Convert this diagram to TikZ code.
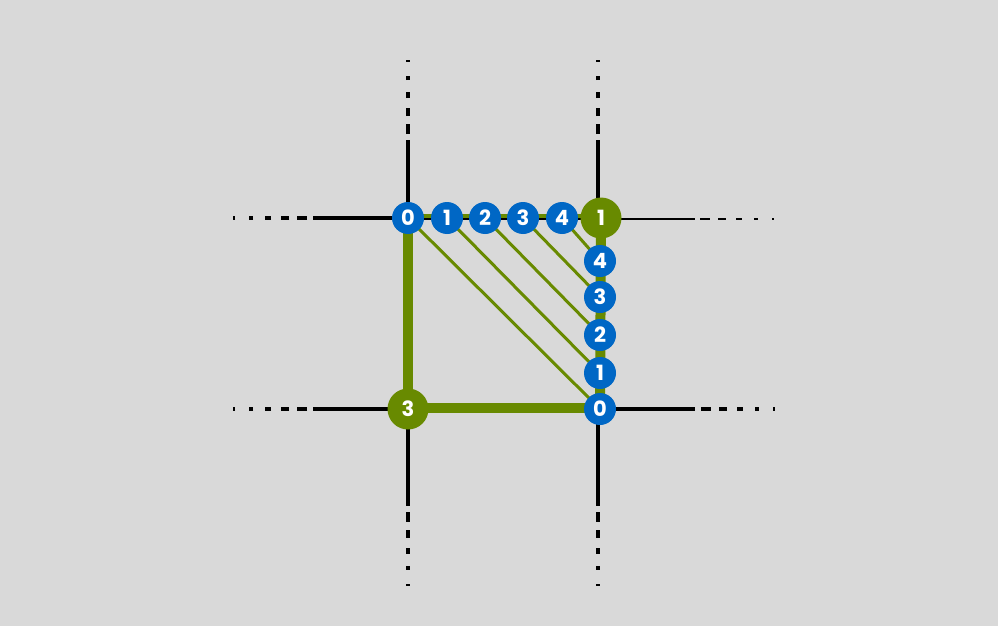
\documentclass[tikz,border=0pt]{standalone}
\usepackage{fontspec}
\setmainfont{Poppins}
\definecolor{bg}{HTML}{D9D9D9}
\definecolor{grn}{HTML}{688A00}
\definecolor{blu}{HTML}{0067C5}
\begin{document}
\begin{tikzpicture}[x=1pt,y=-1pt,
  blk/.style={line width=4pt,black},
  thinblk/.style={line width=2pt,black},
  tail/.style={line width=4pt,black,dash pattern=on 10pt off 8pt on 8pt off 10pt on 6pt off 12pt on 4pt off 14pt on 2pt off 100pt},
  thintail/.style={tail,line width=2pt},
  edge/.style={line width=10pt,grn},
  topedge/.style={line width=4pt,grn},
  diag/.style={line width=3pt,grn},
  bnode/.style={circle,fill=blu,minimum size=32pt,inner sep=0pt,text=white,font=\fontsize{21}{21}\selectfont\bfseries},
  gnode/.style={bnode,fill=grn,minimum size=41pt}]
\useasboundingbox[fill=bg] (0,0) rectangle (998,626);
% node positions
\coordinate (T0) at (408,218);
\coordinate (T1) at (447,218);
\coordinate (T2) at (485,218);
\coordinate (T3) at (523,218);
\coordinate (T4) at (562,218);
\coordinate (G1) at (601,218);
\coordinate (R4) at (600,261);
\coordinate (R3) at (600,297);
\coordinate (R2) at (600,335);
\coordinate (R1) at (600,373);
\coordinate (R0) at (600,409);
\coordinate (G3) at (408,409);
% grid ends
\coordinate (LVt) at (408,140); \coordinate (LVtd) at (408,134); \coordinate (LVte) at (408,55);
\coordinate (LVb) at (408,506); \coordinate (LVbd) at (408,512); \coordinate (LVbe) at (408,595);
\coordinate (RVc) at (598,218); \coordinate (RVc2) at (598,409);
\coordinate (RVt) at (598,140); \coordinate (RVtd) at (598,134); \coordinate (RVte) at (598,55);
\coordinate (RVb) at (598,506); \coordinate (RVbd) at (598,512); \coordinate (RVbe) at (598,595);
\coordinate (THl) at (313,217.5); \coordinate (THld) at (307,217.5); \coordinate (THle) at (225,217.5);
\coordinate (G1b) at (601,217.5);
\coordinate (G1r) at (601,219); \coordinate (THr) at (695,219); \coordinate (THrd) at (700,219); \coordinate (THre) at (785,219);
\coordinate (BHl) at (313,409); \coordinate (BHld) at (307,409); \coordinate (BHle) at (225,409);
\coordinate (BHr) at (695,409); \coordinate (BHrd) at (701,409); \coordinate (BHre) at (785,409);
% black grid
\draw[blk] (T0) -- (LVt); \draw[tail] (LVtd) -- (LVte);
\draw[blk] (G3) -- (LVb); \draw[tail] (LVbd) -- (LVbe);
\draw[blk] (RVc) -- (RVt); \draw[tail] (RVtd) -- (RVte);
\draw[blk] (RVc2) -- (RVb); \draw[tail] (RVbd) -- (RVbe);
\draw[blk] (THl) -- (G1b); \draw[tail] (THld) -- (THle);
\draw[thinblk] (G1r) -- (THr); \draw[thintail] (THrd) -- (THre);
\draw[blk] (BHl) -- (BHr); \draw[tail] (BHld) -- (BHle); \draw[tail] (BHrd) -- (BHre);
\draw[blk] (RVc) -- (RVc2);
% green edges
\draw[edge] (T0) -- (G3);
\draw[edge] ([yshift=1pt]G3) -- ([yshift=1pt]R0);
\draw[edge] (G1) -- (R0);
\draw[topedge] ([yshift=2.3pt]T0) -- ([yshift=2.3pt]G1);
% diagonals
\draw[diag] (T0) -- (R0);
\draw[diag] (T1) -- (R1);
\draw[diag] (T2) -- (R2);
\draw[diag] (T3) -- (R3);
\draw[diag] (T4) -- (R4);
% nodes
\node[bnode] (n0) at (T0) {0};
\node[bnode] (n1) at (T1) {1};
\node[bnode] (n2) at (T2) {2};
\node[bnode] (n3) at (T3) {3};
\node[bnode] (n4) at (T4) {4};
\node[gnode] (g1) at (G1) {1};
\node[bnode] (m4) at (R4) {4};
\node[bnode] (m3) at (R3) {3};
\node[bnode] (m2) at (R2) {2};
\node[bnode] (m1) at (R1) {1};
\node[bnode] (m0) at (R0) {0};
\node[gnode] (g3) at (G3) {3};
\end{tikzpicture}
\end{document}
